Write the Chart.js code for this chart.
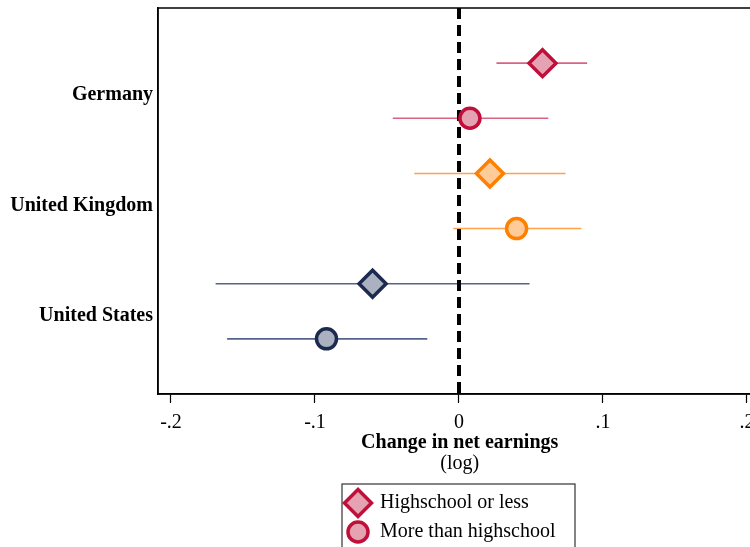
<!DOCTYPE html>
<html>
<head>
<meta charset="utf-8">
<script src="https://cdn.jsdelivr.net/npm/chart.js@4.4.0/dist/chart.umd.min.js"></script>
<style>
  html, body { margin: 0; padding: 0; background: #fff; overflow: hidden; }
  #wrap { width: 770px; height: 547px; }
</style>
</head>
<body>
<div id="wrap"><canvas id="forestChart" width="770" height="547"></canvas></div>
<script>
// データ
const countries = ["Germany", "United Kingdom", "United States"];
const groups = ["Highschool or less", "More than highschool"];
const estHighschool = [0.058, 0.0215, -0.060];
const loHighschool = [0.026, -0.031, -0.169];
const hiHighschool = [0.089, 0.074, 0.049];
const estMore = [0.0076, 0.040, -0.092];
const loMore = [-0.046, -0.004, -0.161];
const hiMore = [0.062, 0.085, -0.022];
const xTicks = [-0.2, -0.1, 0, 0.1, 0.2];

// 色 (国ごと)
const markerBorder = ["#c0103a", "#ff8000", "#1b2a4e"];
const markerFill = ["#e4a2b3", "#ffcc99", "#abb1c0"];
const ciColor = ["rgba(205,45,90,0.75)", "rgba(255,140,30,0.8)", "rgba(40,60,110,0.8)"];

const serif = "'Liberation Serif', 'Times New Roman', serif";

// 行番号: 国 i の高卒以下 = 2i, 高卒超 = 2i+1
const rowOf = (i, g) => 2 * i + g;

const datasets = [];

// マーカー
datasets.push({
    label: groups[0],
    data: estHighschool.map((v, i) => ({ x: v, y: rowOf(i, 0) })),
    pointStyle: "rectRot",
    pointRadius: 13.5,
    pointBorderWidth: 3.5,
    pointBackgroundColor: markerFill,
    pointBorderColor: markerBorder,
    showLine: false,
    order: 0,
});
datasets.push({
    label: groups[1],
    data: estMore.map((v, i) => ({ x: v, y: rowOf(i, 1) })),
    pointStyle: "circle",
    pointRadius: 10,
    pointBorderWidth: 3.5,
    pointBackgroundColor: markerFill,
    pointBorderColor: markerBorder,
    showLine: false,
    order: 1,
});

// ゼロの破線
datasets.push({
    label: "zero",
    data: [{ x: 0, y: -1 }, { x: 0, y: 6 }],
    showLine: true,
    borderColor: "#000",
    borderWidth: 4,
    borderDash: [11, 6],
    pointRadius: 0,
    order: 2,
});

// 信頼区間
countries.forEach((c, i) => {
    [[loHighschool, hiHighschool], [loMore, hiMore]].forEach(([lo, hi], g) => {
        datasets.push({
            label: c + " CI " + g,
            data: [{ x: lo[i], y: rowOf(i, g) }, { x: hi[i], y: rowOf(i, g) }],
            showLine: true,
            borderColor: ciColor[i],
            borderWidth: 1.6,
            pointRadius: 0,
            order: 3,
        });
    });
});

// 枠と凡例
const framePlugin = {
    id: "frame",
    afterDraw(chart) {
        const { ctx, chartArea } = chart;
        ctx.save();
        ctx.strokeStyle = "#000";
        ctx.lineWidth = 1.5;
        ctx.strokeRect(chartArea.left, chartArea.top, chartArea.right - chartArea.left, chartArea.bottom - chartArea.top);

        // (log)
        ctx.fillStyle = "#000";
        ctx.font = "20px " + serif;
        ctx.textAlign = "center";
        ctx.textBaseline = "middle";
        ctx.fillText("(log)", (chartArea.left + chartArea.right) / 2, 464);

        // 凡例
        ctx.strokeStyle = "#333";
        ctx.lineWidth = 1.2;
        ctx.strokeRect(342, 484, 233, 90);
        const ix = 358;
        const rows = [503, 532];
        ctx.lineWidth = 3.5;
        ctx.strokeStyle = markerBorder[0];
        ctx.fillStyle = markerFill[0];
        ctx.beginPath();
        ctx.moveTo(ix - 13.5, rows[0]);
        ctx.lineTo(ix, rows[0] - 13.5);
        ctx.lineTo(ix + 13.5, rows[0]);
        ctx.lineTo(ix, rows[0] + 13.5);
        ctx.closePath();
        ctx.fill();
        ctx.stroke();
        ctx.beginPath();
        ctx.arc(ix, rows[1], 10, 0, Math.PI * 2);
        ctx.fill();
        ctx.stroke();
        ctx.fillStyle = "#000";
        ctx.textAlign = "left";
        groups.forEach((g, k) => ctx.fillText(g, 380, rows[k]));
        ctx.restore();
    },
};

const fmt = (v) => (v === 0 ? "0" : (v < 0 ? "-" : "") + "." + Math.round(Math.abs(v) * 10));

new Chart(document.getElementById("forestChart").getContext("2d"), {
    type: "scatter",
    data: { datasets },
    options: {
        responsive: false,
        animation: false,
        layout: { autoPadding: false, padding: { top: 8, right: 8.6, bottom: 92, left: 0 } },
        plugins: { legend: { display: false }, tooltip: { enabled: false } },
        scales: {
            x: {
                type: "linear",
                min: -0.209,
                max: 0.21,
                afterBuildTicks: (s) => { s.ticks = xTicks.map((v) => ({ value: v })); },
                afterFit: (s) => { s.height = 61; s.paddingLeft = 0; s.paddingRight = 0; },
                ticks: {
                    callback: (v) => fmt(v),
                    color: "#000",
                    padding: 8,
                    maxRotation: 0,
                    font: { family: serif, size: 20 },
                },
                grid: { drawOnChartArea: false, drawTicks: true, tickLength: 9, tickColor: "#000", tickWidth: 1.2 },
                border: { display: true, color: "#000", width: 1.5 },
                title: {
                    display: true,
                    text: "Change in net earnings",
                    color: "#000",
                    padding: 0,
                    font: { family: serif, size: 20, weight: "bold" },
                },
            },
            y: {
                type: "linear",
                min: -1,
                max: 6,
                reverse: true,
                afterBuildTicks: (s) => { s.ticks = countries.map((c, i) => ({ value: 2 * i + 0.58 })); },
                afterFit: (s) => { s.width = 158; s.paddingTop = 0; s.paddingBottom = 0; },
                ticks: {
                    callback: (v, idx) => countries[idx],
                    color: "#000",
                    padding: 5,
                    font: { family: serif, size: 20, weight: "bold" },
                },
                grid: { display: false, drawTicks: false },
                border: { display: true, color: "#000", width: 1.5 },
            },
        },
    },
    plugins: [framePlugin],
});
</script>
</body>
</html>
